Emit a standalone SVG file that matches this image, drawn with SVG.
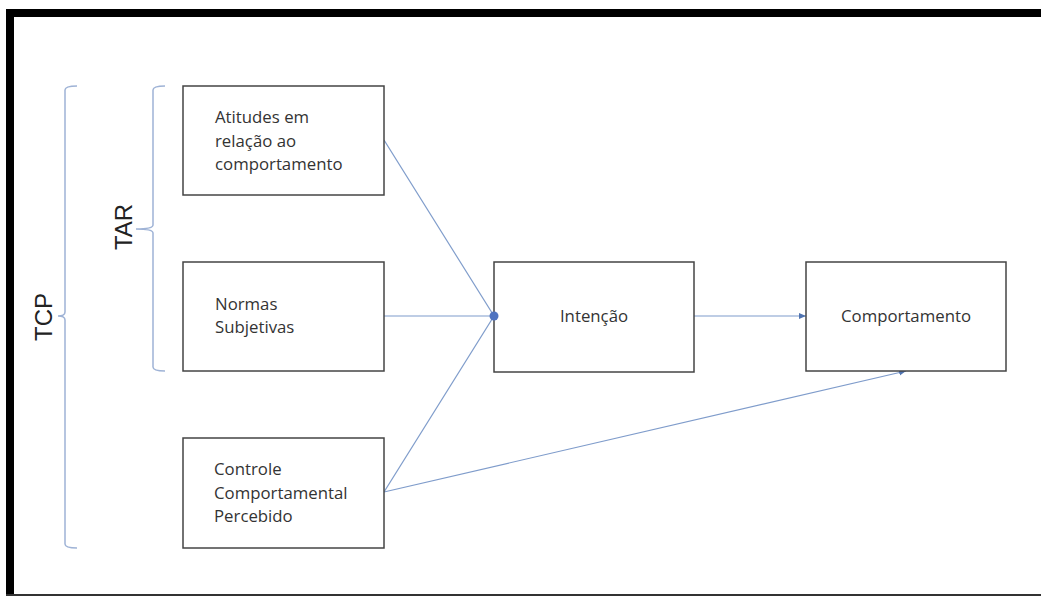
<svg xmlns="http://www.w3.org/2000/svg" width="1041" height="596" viewBox="0 0 1041 596">
<style>
.box{fill:#fff;stroke:#444;stroke-width:1.5}
.t{font-family:"Open Sans","Liberation Sans",sans-serif;font-size:16.8px;fill:#333}
.big{font-family:"Liberation Sans","Open Sans",sans-serif;font-size:24px;fill:#222}
.con{stroke:#7f9ccb;stroke-width:1.2;fill:none}
.br{stroke:#9fb3d6;stroke-width:1.5;fill:none}
</style>
<defs>
<marker id="ah" markerWidth="8" markerHeight="8" refX="7" refY="4" orient="auto" markerUnits="userSpaceOnUse">
<path d="M0,1 L7,4 L0,7 Z" fill="#4f73b0"/>
</marker>
</defs>
<rect x="0" y="0" width="1041" height="596" fill="#fff"/>
<rect x="6" y="9" width="1035" height="8" fill="#000"/>
<rect x="6" y="9" width="8" height="587" fill="#000"/>
<line x1="6" y1="595" x2="1041" y2="595" stroke="#333" stroke-width="2"/>
<g id="brackets">
<path class="br" d="M77,86 Q65,86 65,90 V312 Q65,316 58,316 Q65,316 65,320 V544 Q65,548 77,548"/>
<path class="br" d="M165,86 Q153,86 153,90 V225 Q153,229 136,229 Q153,229 153,233 V367 Q153,371 165,371"/>
<text class="big" transform="translate(52,317) rotate(-90)" text-anchor="middle">TCP</text>
<text class="big" transform="translate(132,227) rotate(-90)" text-anchor="middle">TAR</text>
</g>
<g id="connectors">
<line class="con" x1="384" y1="140" x2="494" y2="316"/>
<line class="con" x1="384" y1="316" x2="494" y2="316"/>
<line class="con" x1="384" y1="492" x2="494" y2="316"/>
<line class="con" x1="694" y1="316" x2="806" y2="316" marker-end="url(#ah)"/>
<line class="con" x1="384" y1="492" x2="906" y2="371" marker-end="url(#ah)"/>
</g>
<g id="atitudes">
<rect class="box" x="183" y="86" width="201" height="109"/>
<text class="t" x="215" y="123">Atitudes em</text>
<text class="t" x="215" y="146.5">relação ao</text>
<text class="t" x="215" y="170">comportamento</text>
</g>
<g id="normas">
<rect class="box" x="183" y="262" width="201" height="109"/>
<text class="t" x="215" y="310">Normas</text>
<text class="t" x="215" y="333">Subjetivas</text>
</g>
<g id="controle">
<rect class="box" x="183" y="438" width="201" height="110"/>
<text class="t" x="214" y="475">Controle</text>
<text class="t" x="214" y="499">Comportamental</text>
<text class="t" x="214" y="522">Percebido</text>
</g>
<g id="intencao">
<rect class="box" x="494" y="262" width="200" height="110"/>
<text class="t" x="594" y="322" text-anchor="middle">Intenção</text>
</g>
<g id="comportamento">
<rect class="box" x="806" y="262" width="200" height="109"/>
<text class="t" x="906" y="322" text-anchor="middle">Comportamento</text>
</g>
<circle cx="494" cy="316" r="4.5" fill="#4f73c0"/>
</svg>
